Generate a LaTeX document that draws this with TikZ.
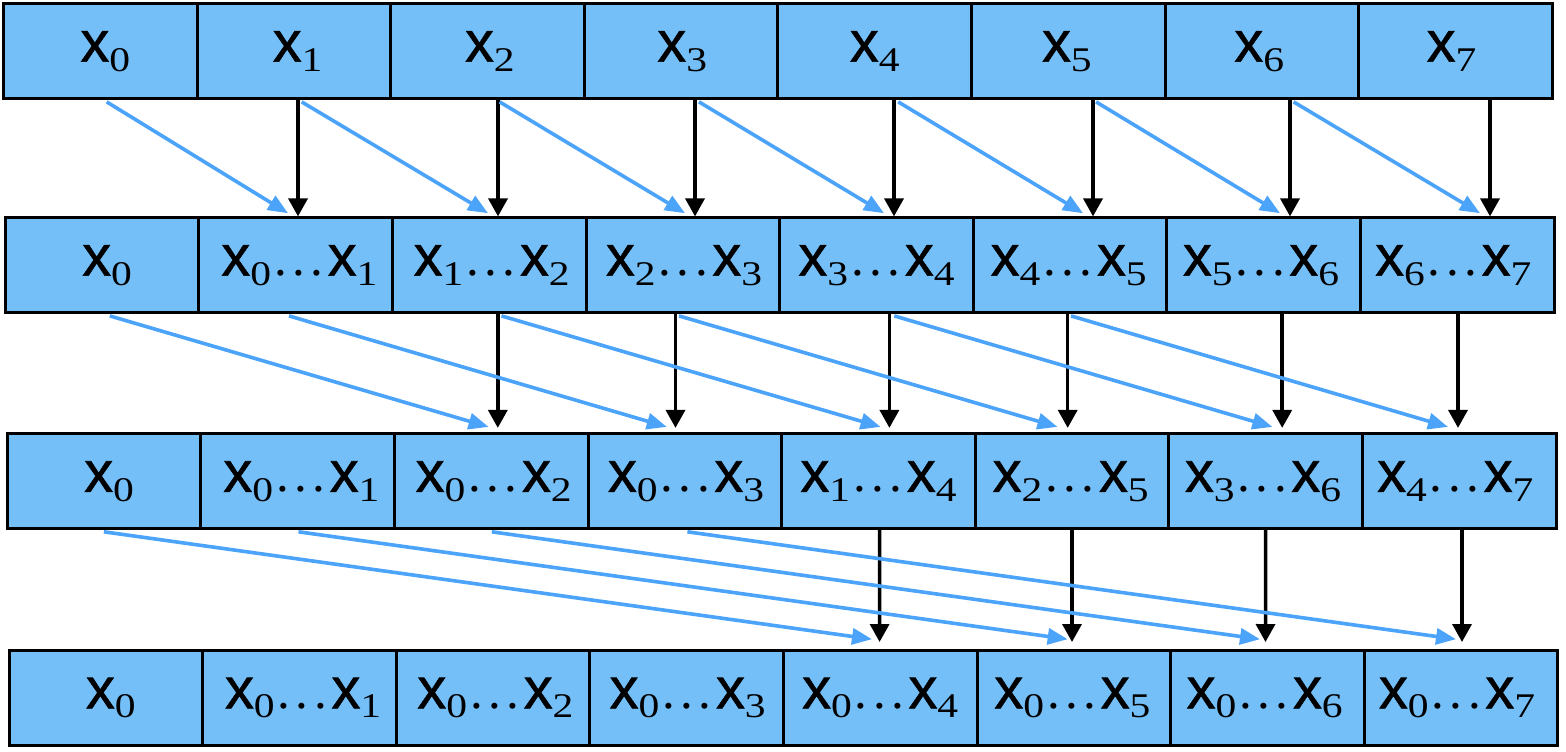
\documentclass[tikz,border=0pt]{standalone}
\usepackage{fontspec}
\setmainfont{Liberation Serif}
\setsansfont{Liberation Sans}
\newfontfamily\xfont[FakeBold=1]{Liberation Sans}
\newfontfamily\subfont[FakeStretch=1.2]{Liberation Serif}
\usepackage{tikz}
\usetikzlibrary{arrows.meta}
\definecolor{cellfill}{RGB}{116,191,248}
\definecolor{arrowblue}{RGB}{75,163,250}
\newcommand{\xv}[1]{{\xfont x}\raisebox{-9.5pt}{\subfont\fontsize{34.6}{36}\selectfont #1}}
\newcommand{\dd}{{\fontsize{51}{52}\selectfont\kern3pt.\kern5.55pt.\kern5.55pt.\kern4.4pt}}
\newcommand{\xr}[2]{\xv{#1}\dd\xv{#2}}

\begin{document}
\begin{tikzpicture}[x=1pt,y=-1pt,
	cell/.style={draw=black, fill=cellfill, line width=3pt, minimum width=193.6pt, minimum height=95pt,
		inner sep=0pt, outer sep=0pt, text height=30pt, text depth=8.4pt, font=\fontsize{57.8}{60}\selectfont,
		execute at begin node={\hspace*{\dimexpr 6pt+#1pt\relax}},
		execute at end node={\hspace*{\dimexpr 6pt-#1pt\relax}}},
	cell/.default=0,
	blk/.style={draw=black, line width=3.5pt, -{Triangle[length=18pt,width=19pt]}},
	blu/.style={draw=arrowblue, line width=3.6pt, -{Triangle[length=20pt,width=16pt]}}]
			\useasboundingbox (0,0) rectangle (1566,752);
			% row a
			\node [cell=5] (a0) at (100.3,50.9) {\xv{0}};
			\node [cell=3.7] (a1) at (293.9,50.9) {\xv{1}};
			\node [cell=2.4] (a2) at (487.5,50.9) {\xv{2}};
			\node [cell=1.1] (a3) at (681.1,50.9) {\xv{3}};
			\node [cell=0] (a4) at (874.7,50.9) {\xv{4}};
			\node [cell=-1.4] (a5) at (1068.3,50.9) {\xv{5}};
			\node [cell=-2.7] (a6) at (1261.9,50.9) {\xv{6}};
			\node [cell=-4] (a7) at (1455.5,50.9) {\xv{7}};
			% row b
			\node [cell=5] (b0) at (102.1,264.9) {\xv{0}};
			\node [cell=3.7] (b1) at (295.7,264.9) {\xr{0}{1}};
			\node [cell=2.4] (b2) at (489.3,264.9) {\xr{1}{2}};
			\node [cell=1.1] (b3) at (682.9,264.9) {\xr{2}{3}};
			\node [cell=0] (b4) at (876.5,264.9) {\xr{3}{4}};
			\node [cell=-1.4] (b5) at (1070.1,264.9) {\xr{4}{5}};
			\node [cell=-2.7] (b6) at (1263.7,264.9) {\xr{5}{6}};
			\node [cell=-4] (b7) at (1457.3,264.9) {\xr{6}{7}};
			% row c
			\node [cell=5] (c0) at (104.1,481) {\xv{0}};
			\node [cell=3.7] (c1) at (297.7,481) {\xr{0}{1}};
			\node [cell=2.4] (c2) at (491.3,481) {\xr{0}{2}};
			\node [cell=1.1] (c3) at (684.9,481) {\xr{0}{3}};
			\node [cell=0] (c4) at (878.5,481) {\xr{1}{4}};
			\node [cell=-1.4] (c5) at (1072.1,481) {\xr{2}{5}};
			\node [cell=-2.7] (c6) at (1265.7,481) {\xr{3}{6}};
			\node [cell=-4] (c7) at (1459.3,481) {\xr{4}{7}};
			% row d
			\node [cell=5] (d0) at (105.8,697.5) {\xv{0}};
			\node [cell=3.7] (d1) at (299.4,697.5) {\xr{0}{1}};
			\node [cell=2.4] (d2) at (493.0,697.5) {\xr{0}{2}};
			\node [cell=1.1] (d3) at (686.6,697.5) {\xr{0}{3}};
			\node [cell=0] (d4) at (880.2,697.5) {\xr{0}{4}};
			\node [cell=-1.4] (d5) at (1073.8,697.5) {\xr{0}{5}};
			\node [cell=-2.7] (d6) at (1267.4,697.5) {\xr{0}{6}};
			\node [cell=-4] (d7) at (1461.0,697.5) {\xr{0}{7}};
			% a -> b
			\draw [blk] ([xshift=4.1]a1.south) -- ([xshift=2.3,yshift=1]b1.north);
			\draw [blk] ([xshift=10.5]a2.south) -- ([xshift=8.7,yshift=1]b2.north);
			\draw [blk] ([xshift=13.9]a3.south) -- ([xshift=12.1,yshift=1]b3.north);
			\draw [blk] ([xshift=19.3]a4.south) -- ([xshift=17.5,yshift=1]b4.north);
			\draw [blk] ([xshift=24.7]a5.south) -- ([xshift=22.9,yshift=1]b5.north);
			\draw [blk] ([xshift=28.1]a6.south) -- ([xshift=26.3,yshift=1]b6.north);
			\draw [blk] ([xshift=34.5]a7.south) -- ([xshift=32.7,yshift=1]b7.north);
			\draw [blu] ([xshift=6.4,yshift=-3.5]a0.south) -- ([xshift=-7.7,yshift=4.2]b1.north);
			\draw [blu] ([xshift=7.8,yshift=-3.5]a1.south) -- ([xshift=-1.3,yshift=4.2]b2.north);
			\draw [blu] ([xshift=12.1,yshift=-3.5]a2.south) -- ([xshift=2.1,yshift=4.2]b3.north);
			\draw [blu] ([xshift=17.9,yshift=-3.5]a3.south) -- ([xshift=7.5,yshift=4.2]b4.north);
			\draw [blu] ([xshift=23.5,yshift=-3.5]a4.south) -- ([xshift=12.9,yshift=4.2]b5.north);
			\draw [blu] ([xshift=27.8,yshift=-3.5]a5.south) -- ([xshift=16.3,yshift=4.2]b6.north);
			\draw [blu] ([xshift=31.7,yshift=-3.5]a6.south) -- ([xshift=22.7,yshift=4.2]b7.north);
			% b -> c
			\draw [blk] ([xshift=8.5]b2.south) -- ([xshift=6.5,yshift=5.6]c2.north);
			\draw [blk] ([xshift=-7.4]b3.south) -- ([xshift=-9.4,yshift=5.6]c3.north);
			\draw [blk] ([xshift=12.9]b4.south) -- ([xshift=10.9,yshift=5.6]c4.north);
			\draw [blk] ([xshift=-2.4]b5.south) -- ([xshift=-4.4,yshift=5.6]c5.north);
			\draw [blk] ([xshift=18.5]b6.south) -- ([xshift=16.5,yshift=5.6]c6.north);
			\draw [blk] ([xshift=0.7]b7.south) -- ([xshift=-1.3,yshift=5.6]c7.north);
			\draw [blu] ([xshift=7.7,yshift=-3.5]b0.south) -- ([xshift=-2.7,yshift=6.6]c2.north);
			\draw [blu] ([xshift=-6.7,yshift=-3.5]b1.south) -- ([xshift=-18.1,yshift=6.6]c3.north);
			\draw [blu] ([xshift=12.2,yshift=-3.5]b2.south) -- ([xshift=2.1,yshift=6.6]c4.north);
			\draw [blu] ([xshift=-3.9,yshift=-3.5]b3.south) -- ([xshift=-14.6,yshift=6.6]c5.north);
			\draw [blu] ([xshift=17.8,yshift=-3.5]b4.south) -- ([xshift=6.7,yshift=6.6]c6.north);
			\draw [blu] ([xshift=0.9,yshift=-3.5]b5.south) -- ([xshift=-11.3,yshift=6.6]c7.north);
			% c -> d
			\draw [blk] ([xshift=1.1]c4.south) -- ([xshift=-0.6,yshift=8]d4.north);
			\draw [blk] ([xshift=-0.1]c5.south) -- ([xshift=-1.8,yshift=8]d5.north);
			\draw [blk] ([xshift=-0.1]c6.south) -- ([xshift=-1.9,yshift=8]d6.north);
			\draw [blk] ([xshift=2.7]c7.south) -- ([xshift=1.0,yshift=8]d7.north);
			\draw [blu] ([xshift=-0.2,yshift=-3.3]c0.south) -- ([xshift=-8.2,yshift=10.8]d4.north);
			\draw [blu] ([xshift=0.8,yshift=-3.3]c1.south) -- ([xshift=-6.1,yshift=10.8]d5.north);
			\draw [blu] ([xshift=0.5,yshift=-3.3]c2.south) -- ([xshift=-7.4,yshift=10.8]d6.north);
			\draw [blu] ([xshift=2.5,yshift=-3.3]c3.south) -- ([xshift=-5.0,yshift=10.8]d7.north);
\end{tikzpicture}
\end{document}
